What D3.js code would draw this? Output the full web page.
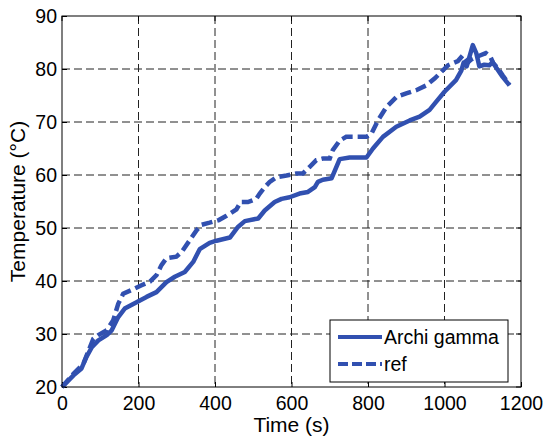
<!DOCTYPE html>
<html>
<head>
<meta charset="utf-8">
<script src="https://cdn.jsdelivr.net/npm/d3@7"></script>
<style>
  body { margin: 0; background: #fff; }
  svg { display: block; }
  text { font-family: "Liberation Sans", Arial, sans-serif; fill: #000; }
</style>
</head>
<body>
<svg id="chart" width="545" height="446"></svg>
<script>
// ---- data ----
const archiTime = [0, 8, 30, 51, 64, 78, 95, 117, 130, 147, 164, 195, 221, 247, 273, 295, 321, 343, 360, 386, 404, 439, 460, 478, 513, 530, 556, 574, 595, 621, 643, 661, 669, 682, 705, 726, 752, 796, 813, 839, 874, 909, 935, 961, 978, 1000, 1030, 1044, 1050, 1058, 1074, 1083, 1091, 1104, 1117, 1126, 1135, 1152, 1170];
const archiTemp = [20, 20.6, 22.2, 23.5, 25.7, 27.5, 28.8, 29.8, 30.7, 33.2, 34.8, 36, 37, 37.9, 39.8, 40.8, 41.7, 43.6, 46, 47.2, 47.6, 48.2, 50.2, 51.3, 51.8, 53.3, 54.9, 55.5, 55.8, 56.5, 56.8, 57.7, 58.7, 59.1, 59.4, 63, 63.3, 63.3, 65, 67.2, 69.1, 70.3, 71, 72.3, 73.8, 75.7, 77.9, 79.7, 81.2, 80.5, 84.5, 83, 80.5, 80.8, 80.7, 81.3, 80.3, 78.5, 76.9];

const refTime = [0, 30, 56, 73, 82, 95, 117, 134, 147, 160, 182, 208, 230, 247, 260, 273, 299, 313, 334, 352, 365, 386, 410, 430, 456, 467, 486, 508, 517, 530, 543, 561, 587, 613, 630, 647, 665, 682, 700, 708, 726, 743, 769, 796, 809, 826, 848, 874, 900, 926, 952, 974, 991, 1009, 1035, 1048, 1061, 1070, 1091, 1108, 1120, 1128, 1139, 1152, 1170];
const refTemp = [20, 22.5, 24.4, 27.5, 29.1, 29.8, 30.7, 32.6, 35.7, 37.6, 38.3, 39.2, 39.9, 41.1, 43, 44.3, 44.6, 45.5, 47.7, 49.6, 50.6, 51, 51.5, 52.3, 53.5, 54.9, 54.9, 55.5, 56.5, 57.7, 58.7, 59.6, 59.9, 60.3, 60.3, 61.5, 62.8, 63.1, 63.1, 64.7, 66.5, 67.2, 67.2, 67.2, 67.8, 70.3, 72.8, 74.7, 75.4, 76, 76.9, 78.2, 79.4, 80.7, 81.5, 82.6, 81.2, 81.8, 82.5, 83, 82.3, 81, 80.2, 78.8, 77];

const xTicks = [0, 200, 400, 600, 800, 1000, 1200];
const yTicks = [20, 30, 40, 50, 60, 70, 80, 90];
const seriesNames = ["Archi gamma", "ref"];
const xLabel = "Time (s)";
const yLabel = "Temperature (°C)";

// ---- layout ----
const pL = 62, pT = 16, pR = 521, pB = 387;
const blue = "#3150b0";
const tickFont = 19.5, labelFont = 21;

const svg = d3.select("#chart");
const x = d3.scaleLinear().domain([0, 1200]).range([pL, pR]);
const y = d3.scaleLinear().domain([20, 90]).range([pB, pT]);

// grid
const grid = svg.append("g");
grid.selectAll("line.vx").data(xTicks.slice(1, -1)).enter().append("line")
  .attr("x1", d => x(d)).attr("x2", d => x(d)).attr("y1", pT).attr("y2", pB)
  .attr("stroke", "#222").attr("stroke-width", 1).attr("stroke-dasharray", "8,4");
grid.selectAll("line.hy").data(yTicks.slice(1, -1)).enter().append("line")
  .attr("y1", d => y(d)).attr("y2", d => y(d)).attr("x1", pL).attr("x2", pR)
  .attr("stroke", "#222").attr("stroke-width", 1).attr("stroke-dasharray", "8,4");

// axes
const xAxis = d3.axisBottom(x).tickValues(xTicks).tickSize(-5).tickPadding(9).tickFormat(d3.format("d"));
const yAxis = d3.axisLeft(y).tickValues(yTicks).tickSize(-5).tickPadding(5).tickFormat(d3.format("d"));
const gx = svg.append("g").attr("transform", `translate(0,${pB})`).call(xAxis);
const gy = svg.append("g").attr("transform", `translate(${pL},0)`).call(yAxis);
[gx, gy].forEach(g => {
  g.select(".domain").remove();
  g.selectAll(".tick line").attr("stroke", "#000");
  g.selectAll(".tick text").attr("font-size", tickFont).attr("font-family", "Liberation Sans, Arial, sans-serif").attr("fill", "#000");
});
// top/right ticks
svg.append("g").selectAll("line").data(xTicks).enter().append("line")
  .attr("x1", d => x(d)).attr("x2", d => x(d)).attr("y1", pT).attr("y2", pT + 5).attr("stroke", "#000");
svg.append("g").selectAll("line").data(yTicks).enter().append("line")
  .attr("y1", d => y(d)).attr("y2", d => y(d)).attr("x1", pR).attr("x2", pR - 5).attr("stroke", "#000");

// lines
const line = d3.line().x(d => x(d[0])).y(d => y(d[1]));
const archi = archiTime.map((t, i) => [t, archiTemp[i]]);
const ref = refTime.map((t, i) => [t, refTemp[i]]);
svg.append("path").datum(ref).attr("d", line).attr("fill", "none")
  .attr("stroke", blue).attr("stroke-width", 4.5).attr("stroke-dasharray", "11,5");
svg.append("path").datum(archi).attr("d", line).attr("fill", "none")
  .attr("stroke", blue).attr("stroke-width", 4.5).attr("stroke-linejoin", "round");

// frame
svg.append("rect").attr("x", pL).attr("y", pT).attr("width", pR - pL).attr("height", pB - pT)
  .attr("fill", "none").attr("stroke", "#000").attr("stroke-width", 1);

// axis labels
svg.append("text").attr("x", (pL + pR) / 2).attr("y", 432).attr("text-anchor", "middle")
  .attr("font-size", labelFont).text(xLabel);
svg.append("text").attr("transform", `translate(25,${(pT + pB) / 2}) rotate(-90)`)
  .attr("text-anchor", "middle").attr("font-size", labelFont).text(yLabel);

// legend
const lg = svg.append("g");
lg.append("rect").attr("x", 330).attr("y", 320).attr("width", 178).attr("height", 62)
  .attr("fill", "#fff").attr("stroke", "#000").attr("stroke-width", 1);
const legendRows = [{name: seriesNames[0], dash: null, yy: 337}, {name: seriesNames[1], dash: "10,4", yy: 364}];
legendRows.forEach(r => {
  lg.append("line").attr("x1", 338).attr("x2", 382).attr("y1", r.yy).attr("y2", r.yy)
    .attr("stroke", blue).attr("stroke-width", 4).attr("stroke-dasharray", r.dash);
  lg.append("text").attr("x", 384).attr("y", r.yy + 7).attr("font-size", tickFont).text(r.name);
});
</script>
</body>
</html>
